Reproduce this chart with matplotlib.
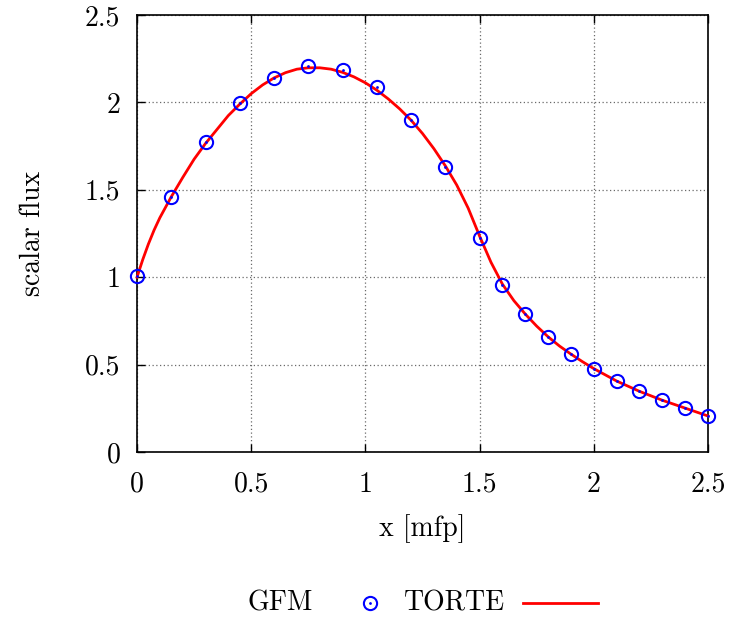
import matplotlib
matplotlib.use("Agg")
import matplotlib.pyplot as plt
from matplotlib.lines import Line2D

plt.rcParams['font.family'] = ['cmr10', 'DejaVu Serif']
plt.rcParams['mathtext.fontset'] = 'cm'
plt.rcParams['axes.formatter.use_mathtext'] = True

# GFM data (markers)
gfm_x = [0.0, 0.15, 0.3, 0.45, 0.6, 0.75, 0.9, 1.05, 1.2, 1.35, 1.5,
         1.6, 1.7, 1.8, 1.9, 2.0, 2.1, 2.2, 2.3, 2.4, 2.5]
gfm_y = [1.005, 1.461, 1.771, 1.997, 2.141, 2.208, 2.188, 2.086, 1.902, 1.632, 1.222,
         0.955, 0.788, 0.659, 0.560, 0.477, 0.406, 0.349, 0.297, 0.252, 0.206]

# TORTE reference solution (line)
torte_x = [0.0, 0.025, 0.05, 0.075, 0.1, 0.15, 0.2, 0.25, 0.3, 0.35, 0.4, 0.45,
           0.5, 0.55, 0.6, 0.65, 0.7, 0.75, 0.8, 0.85, 0.9, 0.95, 1.0, 1.05,
           1.1, 1.15, 1.2, 1.25, 1.3, 1.35, 1.4, 1.45, 1.5, 1.55, 1.6, 1.65,
           1.7, 1.75, 1.8, 1.85, 1.9, 1.95, 2.0, 2.1, 2.2, 2.3, 2.4, 2.5]
torte_y = [1.0, 1.10, 1.19, 1.27, 1.34, 1.46, 1.57, 1.675, 1.765, 1.845, 1.925, 1.99,
           2.05, 2.10, 2.14, 2.17, 2.19, 2.198, 2.198, 2.19, 2.172, 2.146, 2.112, 2.07,
           2.02, 1.963, 1.898, 1.822, 1.735, 1.637, 1.527, 1.395, 1.235, 1.085, 0.96, 0.866,
           0.789, 0.72, 0.659, 0.606, 0.560, 0.517, 0.477, 0.406, 0.347, 0.296, 0.251, 0.206]

xticks = [0, 0.5, 1, 1.5, 2, 2.5]
xticklabels = ['0', '0.5', '1', '1.5', '2', '2.5']
yticks = [0, 0.5, 1, 1.5, 2, 2.5]
yticklabels = ['0', '0.5', '1', '1.5', '2', '2.5']

FS = 20

fig = plt.figure(figsize=(7.32, 6.17), dpi=100)
ax = fig.add_axes([137/732, 1-452/617, (708-137)/732, (452-15)/617])

blue = '#0000ff'
red = '#ff0000'

ax.plot(torte_x, torte_y, color=red, lw=2.0, zorder=3, clip_on=False)
ax.plot(gfm_x, gfm_y, linestyle='none', marker='o', markersize=9.5,
        markerfacecolor='none', markeredgecolor=blue, markeredgewidth=1.5,
        zorder=4, clip_on=False)
ax.plot(gfm_x, gfm_y, linestyle='none', marker='o', markersize=2,
        markerfacecolor=blue, markeredgecolor=blue, markeredgewidth=0,
        zorder=4, clip_on=False)

ax.set_xlim(0, 2.5)
ax.set_ylim(0, 2.5)
ax.set_xticks(xticks)
ax.set_xticklabels(xticklabels)
ax.set_yticks(yticks)
ax.set_yticklabels(yticklabels)
ax.tick_params(direction='in', length=6, width=1, labelsize=FS,
               top=True, right=False, colors='black')
ax.tick_params(axis='x', pad=14)
ax.tick_params(axis='y', pad=12)
ax.grid(True, color='#6a6a6a', linestyle=(0, (1, 2)), linewidth=0.9)
for s in ax.spines.values():
    s.set_linewidth(1.2)

ax.set_xlabel('x [mfp]', fontsize=FS, labelpad=12)
ax.set_ylabel('scalar flux', fontsize=FS, labelpad=28)

# Legend (gnuplot style: text then sample)
ly = 1 - 603/617
fig.text(313/732, ly, 'GFM', ha='right', va='center', fontsize=FS)
fig.add_artist(Line2D([370/732], [ly], transform=fig.transFigure, linestyle='none',
                      marker='o', markersize=9.5, markerfacecolor='none',
                      markeredgecolor=blue, markeredgewidth=1.5))
fig.add_artist(Line2D([370/732], [ly], transform=fig.transFigure, linestyle='none',
                      marker='o', markersize=2, markerfacecolor=blue,
                      markeredgewidth=0))
fig.text(505/732, ly, 'TORTE', ha='right', va='center', fontsize=FS)
fig.add_artist(Line2D([523/732, 598/732], [ly, ly], transform=fig.transFigure,
                      color=red, lw=2.0))

fig.savefig('out.png', dpi=100)
